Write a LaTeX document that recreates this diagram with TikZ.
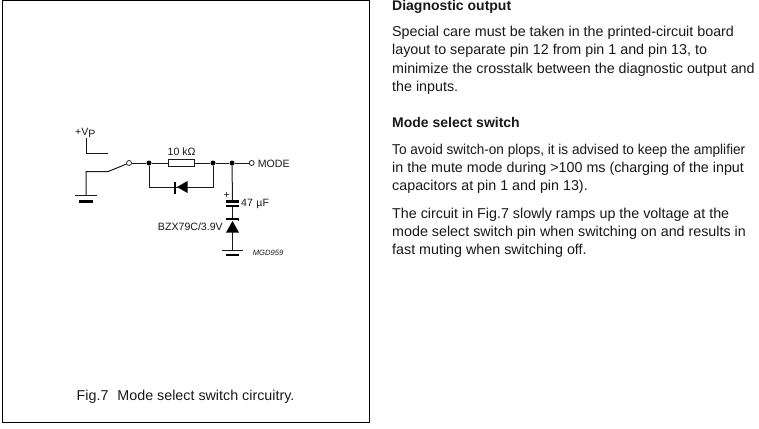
\documentclass[tikz,border=0pt]{standalone}
\usepackage{fontspec}
\usepackage{graphicx}
\setmainfont{Liberation Sans}
\usetikzlibrary{calc}
\tikzset{
  wire/.style={line width=1pt,black!90},
  thick plate/.style={line width=2.6pt,black},
  dot/.style={circle,fill=black,inner sep=0pt,minimum size=5pt},
  term/.style={circle,draw=black!85,fill=white,line width=0.8pt,inner sep=0pt,minimum size=5pt},
  body/.style={anchor=base west,inner sep=0pt,font=\fontsize{14.3}{16}\selectfont,text=black!90},
  head/.style={body,font=\fontsize{14}{16}\selectfont\bfseries},
  lab/.style={inner sep=0pt,font=\fontsize{10.6}{12}\selectfont,text=black!90},
}
\begin{document}
\begin{tikzpicture}[x=1pt,y=-1pt]
\useasboundingbox (0,0) rectangle (759,428);
\fill[white] (0,0) rectangle (759,428);
\draw[line width=1pt,black] (2,1) rectangle (369.5,422.5);

% nodes of the circuit
\node[term] (sw) at (129,163) {};
\node[dot] (j1) at (149,163) {};
\node[draw=black!90,line width=1pt,fill=white,minimum width=26.5pt,minimum height=7.2pt,inner sep=0pt] (r) at (181.7,163) {};
\node[dot] (j2) at (213,163) {};
\node[dot] (j3) at (232,163) {};
\node[term] (md) at (251.7,163) {};
\coordinate (d1) at (149,187);
\coordinate (d2) at (213,187);
\coordinate (vp1) at (86,138.3);
\coordinate (vp2) at (86,153.3);
\coordinate (vp3) at (108,153.3);
\coordinate (g0) at (86,195);
\coordinate (g1) at (86,171.7);
\coordinate (g2) at (107.7,171.7);
\coordinate (c1) at (232.5,201.7);
\coordinate (c2) at (232.5,205.7);
\coordinate (z1) at (232.5,219);
\coordinate (z2) at (232.5,232.3);
\coordinate (g3) at (232.5,250);

% wires
\draw[wire] (vp1) -- (vp2) -- (vp3);
\draw[wire] (g0) -- (g1) -- (g2) -- (sw);
\draw[wire] (sw) -- (j1) -- (r) -- (j2) -- (j3) -- (md);
\draw[wire] (j1) -- (d1) -- (d2) -- (j2);
\draw[wire] (j3) -- (c1);
\draw[wire] (c2) -- (z1);
\draw[wire] (z2) -- (g3);

% diode
\fill[black] (177,187) -- (187.5,181) -- (187.5,193) -- cycle;
\draw[line width=2.2pt,black] (175,181.5) -- (175,193.5);
% capacitor
\draw[thick plate] (226,201.7) -- (239,201.7);
\draw[thick plate] (226,205.9) -- (239,205.9);
% zener
\draw[thick plate] (226,219) -- (239,219);
\draw[line width=1.6pt,black] (238.5,219) -- (238.5,221);
\fill[black] (232.5,221) -- (226,232.5) -- (239,232.5) -- cycle;
% grounds
\draw[wire] (75,195) -- (97,195);
\draw[thick plate] (79,201.7) -- (93,201.7);
\draw[wire] (222,250) -- (243,250);
\draw[thick plate] (226,255) -- (239,255);

% circuit labels
\node[lab,anchor=base west] (vpl) at (75,135) {+V\raisebox{-2.2pt}{P}};
\node[lab,anchor=base] (rl) at (181.7,155.5) {10 kΩ};
\node[lab,anchor=base west] (mdl) at (257.7,167) {MODE};
\node[lab,anchor=base] (pl) at (226.7,198.5) {+};
\node[lab,anchor=base west] (cl) at (241,206.5) {47\hspace{3.5pt}µF};
\node[lab,anchor=base east] (zl) at (223,230.5) {BZX79C/3.9V};
\node[inner sep=0pt,anchor=base west,font=\fontsize{7.6}{9}\selectfont\itshape,text=black!90] (mgd) at (252.7,255) {MGD959};
\node[body] (cap) at (76.5,400.5) {Fig.7\hspace{5pt} Mode select switch circuitry.};

% text column
\node[head] (h1) at (392,10.5) {Diagnostic output};
\node[body] (t1) at (392,37) {Special care must be taken in the printed-circuit board};
\node[body] (t2) at (392,55) {layout to separate pin 12 from pin 1 and pin 13, to};
\node[body] (t3) at (392,73) {minimize the crosstalk between the diagnostic output and};
\node[body] (t4) at (392,91) {the inputs.};
\node[head] (h2) at (392,127) {Mode select switch};
\node[body] (t5) at (392,154.5) {\resizebox{353pt}{\height}{To avoid switch-on plops, it is advised to keep the amplifier}};
\node[body] (t6) at (392,172.5) {in the mute mode during >100 ms (charging of the input};
\node[body] (t7) at (392,190.5) {capacitors at pin 1 and pin 13).};
\node[body] (t8) at (392,218) {The circuit in Fig.7 slowly ramps up the voltage at the};
\node[body] (t9) at (392,236) {mode select switch pin when switching on and results in};
\node[body] (t10) at (392,254) {fast muting when switching off.};
\end{tikzpicture}
\end{document}
